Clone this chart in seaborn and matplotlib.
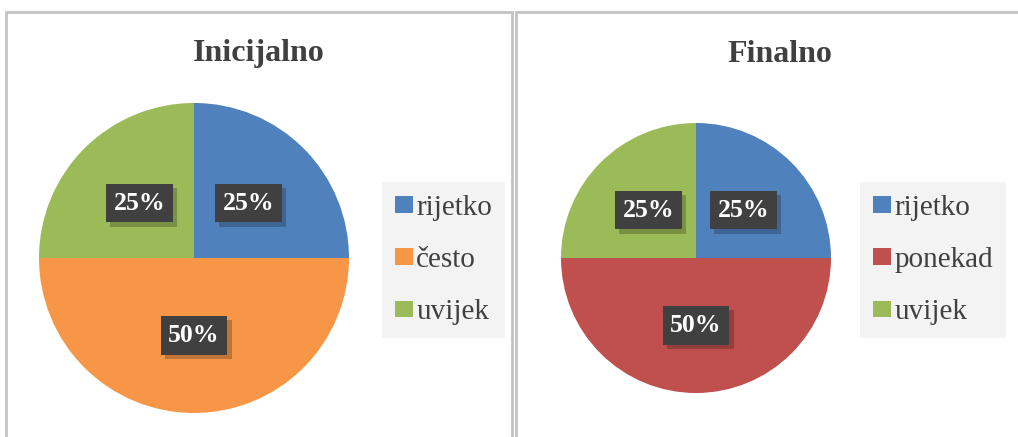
import matplotlib
matplotlib.use("Agg")
import matplotlib.pyplot as plt
import matplotlib.patheffects as pe
from matplotlib.patches import Rectangle, Patch
import seaborn as sns

# data
titles = ["Inicijalno", "Finalno"]
labels_init = ["rijetko", "često", "uvijek"]
values_init = [25, 50, 25]
labels_final = ["rijetko", "ponekad", "uvijek"]
values_final = [25, 50, 25]

colors_init = ["#4F81BD", "#F79646", "#9BBB59"]
colors_final = ["#4F81BD", "#C0504D", "#9BBB59"]

sns.set_theme(style="white")
plt.rcParams["font.family"] = ["Liberation Serif", "DejaVu Serif"]

W, H = 1018, 437
fig = plt.figure(figsize=(W / 100, H / 100), dpi=100)


def px_axes(x0, y0, x1, y1):
    return fig.add_axes([x0 / W, 1 - y1 / H, (x1 - x0) / W, (y1 - y0) / H])


# panel borders
for x0, x1 in [(6, 512), (516, 1024)]:
    fig.add_artist(Rectangle((x0 / W, -0.05), (x1 - x0) / W, 1 - 12 / H + 0.05,
                             transform=fig.transFigure, fill=False,
                             edgecolor="#c3c3c3", linewidth=2))


def draw_pie(box, values, labels, colors, title, title_x, legend_x):
    ax = px_axes(*box)
    wedges, _, autotexts = ax.pie(values, colors=colors, startangle=90, counterclock=False,
                                  autopct="%d%%", pctdistance=0.5,
                                  wedgeprops=dict(linewidth=0))
    ax.set_xlim(-1, 1)
    ax.set_ylim(-1, 1)
    ax.axis("off")
    for t in autotexts:
        t.set_color("white")
        t.set_fontweight("bold")
        t.set_fontsize(18.5)
        t.set_bbox(dict(boxstyle="square,pad=0.3", facecolor="#404040", edgecolor="none"))
        t.get_bbox_patch().set_path_effects([
            pe.SimplePatchShadow(offset=(3, -3), shadow_rgbFace="#000000", alpha=0.22),
            pe.Normal()])
    fig.text(title_x / W, 1 - 54 / H, title, ha="center", va="center",
             fontsize=23, fontweight="bold", color="#404040")
    handles = [Patch(facecolor=c, edgecolor="none") for c in colors]
    fig.legend(handles, labels, loc="center left",
               bbox_to_anchor=(legend_x / W, 1 - 260 / H),
               frameon=True, fancybox=False, facecolor="#f3f3f3", edgecolor="none",
               framealpha=1, fontsize=21, handlelength=0.6, handleheight=0.5,
               handletextpad=0.12, labelspacing=0.9, borderpad=0.45,
               borderaxespad=0, labelcolor="#404040")
    return ax


draw_pie((39, 103, 349, 413), values_init, labels_init, colors_init,
         titles[0], 259, 382)
draw_pie((561, 123, 831, 393), values_final, labels_final, colors_final,
         titles[1], 780, 860)

fig.savefig("out.png", dpi=100, facecolor="white")
